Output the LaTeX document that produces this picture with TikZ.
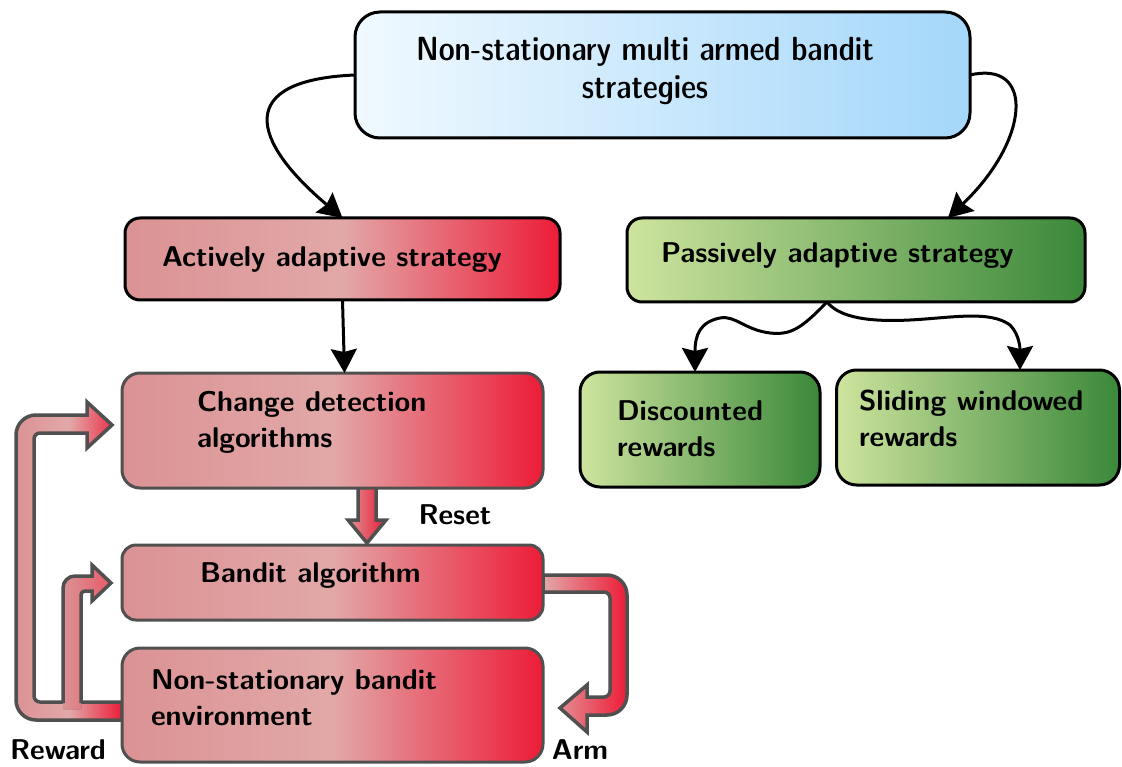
\documentclass[tikz,border=0pt]{standalone}
\usepackage{fontspec}
\newfontfamily\titlefont{Latin Modern Sans Demi Cond}
\usetikzlibrary{arrows.meta}
\definecolor{rl}{RGB}{219,146,148}
\definecolor{rm}{RGB}{226,168,168}
\definecolor{rr}{RGB}{237,28,56}
\definecolor{gl}{RGB}{206,228,158}
\definecolor{gr}{RGB}{58,136,58}
\definecolor{bl}{RGB}{240,249,255}
\definecolor{br}{RGB}{164,215,250}
\definecolor{edge}{RGB}{80,80,80}
\begin{document}
\begin{tikzpicture}[x=1pt,y=-1pt,
  every node/.style={inner sep=0pt, outer sep=0pt},
  blackbox/.style={draw=black, line width=3pt, rounded corners=18pt},
  graybox/.style={draw=edge, line width=3pt, rounded corners=18pt},
  redfill/.style={left color=rl, right color=rr, middle color=rm},
  greenfill/.style={left color=gl, right color=gr},
  bluefill/.style={left color=bl, right color=br},
  lbl/.style={font=\fontsize{28.6}{36}\selectfont\sffamily\bfseries, align=left, anchor=west},
  conn/.style={draw=black, line width=3pt, -{Stealth[length=24pt,width=26pt,inset=3pt]}},
  fat/.style={draw=edge, line width=3.5pt, line join=miter},
]
\useasboundingbox (0,0) rectangle (1122,767);
\fill[white] (0,0) rectangle (1122,767);

% fat arrows (drawn under the boxes)
\path[fat, left color=rl, right color=rr, middle color=rm]
  (122,702) [rounded corners=6pt] -- (34,702) -- (34,433) [sharp corners] -- (87,433)
  -- (87,448) -- (112,425) -- (87,402) -- (87,415) [rounded corners=20pt] -- (16,415)
  -- (16,720) [sharp corners] -- (122,720) -- cycle;
\fill[left color=rl, right color=rr!55!rm]
  (63,709) [rounded corners=12pt] -- (63,576) [sharp corners] -- (92,576)
  -- (92,565) -- (111,583) -- (92,601) -- (92,591) [rounded corners=4pt] -- (81,591)
  [sharp corners] -- (81,709) -- cycle;
\draw[fat]
  (63,703) [rounded corners=12pt] -- (63,576) [sharp corners] -- (92,576)
  -- (92,565) -- (111,583) -- (92,601) -- (92,591) [rounded corners=4pt] -- (81,591)
  [sharp corners] -- (81,703);
\path[fat, left color=rm, right color=rr]
  (543,575) [rounded corners=20pt] -- (627,575) -- (627,715) [sharp corners] -- (587,715)
  -- (587,732) -- (560,708) -- (587,685) -- (587,697) [rounded corners=6pt] -- (610,697)
  -- (610,592) [sharp corners] -- (543,592) -- cycle;
\path[fat, left color=rl, right color=rr]
  (358,486) -- (358,520) -- (348,520) -- (367,543) -- (386,520) -- (376,520) -- (376,486) -- cycle;

% boxes
\node[blackbox, bluefill, rounded corners=25pt, minimum width=615pt, minimum height=126pt] (top) at (662.5,75) {};
\node[blackbox, redfill, minimum width=435pt, minimum height=82pt, rounded corners=15pt] (act) at (342.5,259) {};
\node[blackbox, greenfill, minimum width=458pt, minimum height=84pt, rounded corners=15pt] (pas) at (856,260) {};
\node[graybox, redfill, minimum width=421pt, minimum height=115pt] (cd) at (332.5,430.5) {};
\node[graybox, redfill, minimum width=421pt, minimum height=75pt, rounded corners=14pt] (ba) at (332.5,582.5) {};
\node[graybox, redfill, minimum width=421pt, minimum height=114pt] (env) at (332.5,705) {};
\node[blackbox, greenfill, minimum width=240pt, minimum height=115pt, rounded corners=20pt] (disc) at (700,429.5) {};
\node[blackbox, greenfill, minimum width=283pt, minimum height=115pt, rounded corners=20pt] (slid) at (978,427.5) {};

% texts
\node[font=\titlefont\fontsize{33.5}{38}\selectfont, align=center] (ttop) at (645,71) {Non-stationary multi armed bandit\\strategies};
\node[lbl] (tact) at (162,260) {Actively adaptive strategy};
\node[lbl] (tpas) at (661,256) {Passively adaptive strategy};
\node[lbl] (tcd) at (197,422) {Change detection\\algorithms};
\node[lbl] (tba) at (200,576) {Bandit algorithm};
\node[lbl] (tenv) at (151,698) {Non-stationary bandit\\environment};
\node[lbl] (tdisc) at (617,429) {Discounted\\rewards};
\node[lbl] (tslid) at (859,418) {Sliding windowed\\rewards};
\node[lbl, anchor=center] (treset) at (455,515) {Reset};
\node[lbl, anchor=center] (treward) at (58,750) {Reward};
\node[lbl, anchor=center] (tarm) at (580,750) {Arm};

% connectors
\draw[conn] (top.west) .. controls (235,80) and (250,140) .. (act.north);
\draw[conn] (top.east) .. controls (1035,60) and (1030,140) .. ([xshift=92pt]pas.north);
\draw[conn] (act.south) -- ([xshift=12pt]cd.north);
\draw[conn] ([xshift=-29pt]pas.south) .. controls (800,330) and (790,335) .. (770,333)
  .. controls (745,330) and (735,315) .. (720,318)
  .. controls (700,322) and (695,335) .. ([xshift=-5pt]disc.north);
\draw[conn] ([xshift=-29pt]pas.south) .. controls (840,318) and (870,322) .. (910,320)
  .. controls (950,318) and (990,310) .. (1010,325)
  .. controls (1020,335) and (1020,350) .. ([xshift=42pt]slid.north);
\end{tikzpicture}
\end{document}
